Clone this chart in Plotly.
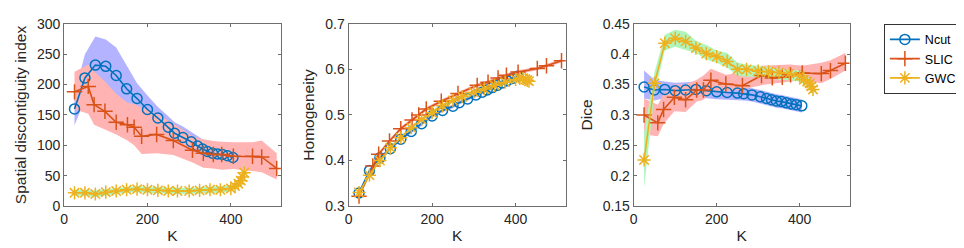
import plotly.graph_objects as go

# ---------------- data ----------------
K_ncut = [25, 50, 75, 100, 125, 150, 175, 200, 225, 250, 265, 285, 305, 320, 332, 344, 356, 368, 380, 392, 405]
K_slic = [25, 58, 72, 98, 125, 152, 168, 186, 222, 262, 308, 334, 358, 378, 406, 452, 474, 510]
K_gwc = [25, 50, 75, 100, 125, 150, 175, 200, 225, 250, 272, 300, 325, 350, 375, 400, 410, 418, 424, 428, 432]

# Panel 1: spatial discontiguity index
sdi_ncut = [160, 211, 232, 230, 215, 193, 177, 159, 145, 130, 120, 113, 106, 99, 94, 90, 87, 86, 85, 83, 80]
sdi_ncut_hi = [185, 250, 279, 274, 261, 231, 202, 182, 163, 148, 138, 131, 122, 115, 110, 106, 103, 100, 97, 94, 90]
sdi_ncut_lo = [133, 175, 195, 195, 180, 162, 150, 137, 127, 114, 105, 98, 92, 86, 82, 78, 75, 74, 73, 72, 70]
sdi_slic = [188, 197, 167, 156, 138, 134, 130, 115, 118, 108, 92, 87, 85, 85, 82, 82, 81, 62]
sdi_slic_hi = [221, 233, 222, 205, 185, 170, 168, 163, 152, 136, 115, 110, 107, 106, 105, 105, 108, 87]
sdi_slic_lo = [159, 152, 134, 126, 118, 108, 100, 86, 87, 84, 72, 63, 62, 60, 61, 58, 56, 44]
sdi_gwc = [22, 22, 20, 23, 25, 27, 28, 27, 26, 25, 25, 25, 26, 27, 27, 29, 33, 37, 42, 48, 55]
sdi_gwc_hi = [27, 27, 26, 28, 30, 32, 33, 32, 31, 30, 30, 30, 31, 32, 32, 34, 38, 43, 50, 58, 70]
sdi_gwc_lo = [17, 17, 15, 18, 20, 22, 23, 22, 21, 20, 20, 20, 21, 22, 22, 24, 28, 32, 36, 42, 48]

# Panel 2: homogeneity
hom_ncut = [0.329, 0.378, 0.406, 0.426, 0.447, 0.464, 0.481, 0.498, 0.510, 0.519, 0.527, 0.535, 0.544, 0.550, 0.555, 0.560, 0.565, 0.570, 0.575, 0.580, 0.585]
hom_slic = [0.322, 0.388, 0.414, 0.443, 0.470, 0.489, 0.500, 0.513, 0.530, 0.547, 0.565, 0.572, 0.581, 0.587, 0.594, 0.602, 0.608, 0.619]
hom_gwc = [0.330, 0.368, 0.400, 0.428, 0.450, 0.472, 0.490, 0.505, 0.520, 0.532, 0.540, 0.550, 0.557, 0.565, 0.572, 0.578, 0.580, 0.580, 0.578, 0.576, 0.574]
hom_spread = 0.004

# Panel 3: Dice
dice_ncut = [0.346, 0.341, 0.342, 0.340, 0.341, 0.342, 0.340, 0.338, 0.337, 0.336, 0.335, 0.333, 0.330, 0.327, 0.325, 0.323, 0.322, 0.320, 0.318, 0.317, 0.315]
dice_ncut_hi = [0.373, 0.358, 0.355, 0.353, 0.354, 0.355, 0.353, 0.351, 0.349, 0.348, 0.346, 0.344, 0.341, 0.338, 0.336, 0.334, 0.333, 0.331, 0.329, 0.328, 0.326]
dice_ncut_lo = [0.327, 0.324, 0.328, 0.327, 0.328, 0.329, 0.328, 0.326, 0.325, 0.324, 0.324, 0.322, 0.319, 0.316, 0.314, 0.312, 0.311, 0.309, 0.307, 0.306, 0.304]
dice_slic = [0.300, 0.287, 0.309, 0.329, 0.325, 0.341, 0.341, 0.357, 0.351, 0.348, 0.365, 0.361, 0.362, 0.366, 0.369, 0.368, 0.373, 0.385]
dice_slic_hi = [0.327, 0.317, 0.335, 0.350, 0.350, 0.358, 0.365, 0.376, 0.366, 0.370, 0.381, 0.382, 0.383, 0.383, 0.381, 0.386, 0.390, 0.402]
dice_slic_lo = [0.268, 0.265, 0.285, 0.306, 0.305, 0.322, 0.325, 0.337, 0.339, 0.342, 0.349, 0.351, 0.353, 0.355, 0.357, 0.352, 0.359, 0.373]
dice_gwc = [0.226, 0.352, 0.418, 0.426, 0.421, 0.410, 0.401, 0.396, 0.388, 0.375, 0.375, 0.372, 0.371, 0.370, 0.368, 0.364, 0.358, 0.355, 0.352, 0.347, 0.342]
dice_gwc_hi = [0.270, 0.370, 0.432, 0.440, 0.437, 0.422, 0.415, 0.406, 0.402, 0.386, 0.383, 0.381, 0.379, 0.376, 0.375, 0.373, 0.368, 0.364, 0.360, 0.355, 0.350]
dice_gwc_lo = [0.180, 0.335, 0.406, 0.412, 0.407, 0.402, 0.391, 0.386, 0.378, 0.365, 0.363, 0.363, 0.361, 0.358, 0.357, 0.355, 0.350, 0.346, 0.343, 0.339, 0.334]

x_ticks = [0, 200, 400]
y1_ticks = [0, 50, 100, 150, 200, 250, 300]
y2_ticks = [0.3, 0.4, 0.5, 0.6, 0.7]
y3_ticks = [0.15, 0.2, 0.25, 0.3, 0.35, 0.4, 0.45]
y3_labels = ["0.15", "0.2", "0.25", "0.3", "0.35", "0.4", "0.45"]

names = ["Ncut", "SLIC", "GWC"]
line_colors = ["#0072BD", "#D95319", "#EDB120"]
band_colors = ["rgb(179,179,255)", "rgb(255,179,179)", "rgb(176,246,188)"]
symbols = ["circle-open", "cross-thin-open", "asterisk-open"]

FONT = "Liberation Sans, Arial, sans-serif"

fig = go.Figure()


def add_band(K, lo, hi, color, xa, ya):
    fig.add_trace(go.Scatter(
        x=list(K) + list(K)[::-1], y=list(hi) + list(lo)[::-1],
        fill="toself", fillcolor=color, line=dict(width=0), mode="lines",
        hoverinfo="skip", showlegend=False, xaxis=xa, yaxis=ya))


def add_line(K, y, i, xa, ya, show):
    fig.add_trace(go.Scatter(
        x=K, y=y, mode="lines+markers", name=names[i],
        line=dict(color=line_colors[i], width=1.6),
        marker=dict(symbol=symbols[i], size=10 if i == 0 else 11,
                    color=line_colors[i], line=dict(color=line_colors[i], width=1.5)),
        showlegend=show, xaxis=xa, yaxis=ya))


Ks = [K_ncut, K_slic, K_gwc]
panels = [
    ("x", "y", [sdi_ncut, sdi_slic, sdi_gwc],
     [sdi_ncut_lo, sdi_slic_lo, sdi_gwc_lo], [sdi_ncut_hi, sdi_slic_hi, sdi_gwc_hi]),
    ("x2", "y2", [hom_ncut, hom_slic, hom_gwc],
     [[v - hom_spread for v in s] for s in [hom_ncut, hom_slic, hom_gwc]],
     [[v + hom_spread for v in s] for s in [hom_ncut, hom_slic, hom_gwc]]),
    ("x3", "y3", [dice_ncut, dice_slic, dice_gwc],
     [dice_ncut_lo, dice_slic_lo, dice_gwc_lo], [dice_ncut_hi, dice_slic_hi, dice_gwc_hi]),
]

for p, (xa, ya, ys, los, his) in enumerate(panels):
    for i in range(3):
        add_band(Ks[i], los[i], his[i], band_colors[i], xa, ya)
    for i in range(3):
        add_line(Ks[i], ys[i], i, xa, ya, p == 0)

W, H = 964, 248
doms = [(52.3, 270), (338, 556), (624.3, 841)]
ydom = [(H - 203.3) / H, (H - 8.3) / H]

axis_common = dict(showline=True, linecolor="#6e6e6e", linewidth=1, mirror="ticks",
                   ticks="inside", ticklen=3, tickcolor="#6e6e6e", showgrid=False,
                   zeroline=False, tickfont=dict(size=14, color="#262626", family=FONT))

layout = dict(
    width=W, height=H, margin=dict(l=0, r=0, t=0, b=0),
    paper_bgcolor="white", plot_bgcolor="white",
    font=dict(family=FONT, color="#262626"),
    legend=dict(x=875.5 / W, y=1 - 8.3 / H, xanchor="left", yanchor="top",
                bordercolor="#333333", borderwidth=1, bgcolor="white",
                font=dict(size=12.5, family=FONT, color="#000000"),
                tracegroupgap=0, itemwidth=30),
)
ylabels = ["Spatial discontiguity index", "Homogeneity", "Dice"]
yranges = [[0, 300], [0.3, 0.7], [0.15, 0.45]]
yticks = [(y1_ticks, [str(v) for v in y1_ticks]), (y2_ticks, [str(v) for v in y2_ticks]), (y3_ticks, y3_labels)]
for p in range(3):
    sx = "" if p == 0 else str(p + 1)
    layout["xaxis" + sx] = dict(axis_common, domain=[doms[p][0] / W, doms[p][1] / W], range=[0, 520],
                                tickvals=x_ticks, anchor="y" + sx,
                                title=dict(text="K", font=dict(size=15.5, family=FONT, color="#262626"), standoff=4))
    layout["yaxis" + sx] = dict(axis_common, domain=ydom, range=yranges[p],
                                tickvals=yticks[p][0], ticktext=yticks[p][1], anchor="x" + sx,
                                title=dict(text=ylabels[p], font=dict(size=15.5, family=FONT, color="#262626"), standoff=6))
fig.update_layout(**layout)

fig.write_html("out.html")
